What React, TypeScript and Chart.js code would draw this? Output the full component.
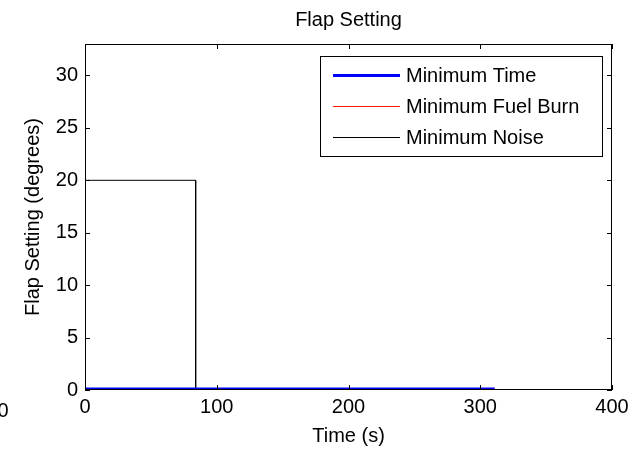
import React, { useEffect, useRef } from "react";
import { Chart, registerables } from "chart.js";

Chart.register(...registerables);

const TITLE = "Flap Setting";
const X_LABEL = "Time (s)";
const Y_LABEL = "Flap Setting (degrees)";
const X_TICKS = [0, 100, 200, 300, 400];
const Y_TICKS = [0, 5, 10, 15, 20, 25, 30];
const X_MIN = 0;
const X_MAX = 400;
const Y_MIN = 0;
const Y_MAX = 33;
const SERIES_NAMES = ["Minimum Time", "Minimum Fuel Burn", "Minimum Noise"];
const SERIES_COLORS = ["#0000ff", "#ff1a00", "#000000"];
const TIME_X = [0, 311];
const TIME_Y = [0, 0];
const FUEL_X = [0, 311];
const FUEL_Y = [0, 0];
const NOISE_X = [0, 84, 84, 311];
const NOISE_Y = [20, 20, 0, 0];
const STRAY_LABEL = "0";

const FONT = "'Liberation Sans', Arial, Helvetica, sans-serif";

const toPoints = (xs: number[], ys: number[]) => xs.map((x, i) => ({ x, y: ys[i] }));

const framePlugin = {
  id: "matlabFrame",
  afterDraw(chart: any) {
    const { ctx, chartArea } = chart;
    const { left, right, top, bottom } = chartArea;
    const xs = chart.scales.x;
    const ys = chart.scales.y;
    ctx.save();
    ctx.strokeStyle = "#000";
    ctx.lineWidth = 1;
    ctx.strokeRect(left + 0.5, top + 0.5, right - left - 1, bottom - top - 1);
    const tl = 5;
    ctx.beginPath();
    X_TICKS.forEach((v) => {
      const px = Math.round(xs.getPixelForValue(v)) + 0.5;
      ctx.moveTo(px, bottom);
      ctx.lineTo(px, bottom - tl);
      ctx.moveTo(px, top);
      ctx.lineTo(px, top + tl);
    });
    Y_TICKS.forEach((v) => {
      const py = Math.round(ys.getPixelForValue(v)) + 0.5;
      ctx.moveTo(left, py);
      ctx.lineTo(left + tl, py);
      ctx.moveTo(right, py);
      ctx.lineTo(right - tl, py);
    });
    ctx.stroke();

    // legend box
    const bx = 320, by = 56, bw = 283, bh = 101;
    ctx.fillStyle = "#fff";
    ctx.fillRect(bx, by, bw, bh);
    ctx.strokeRect(bx + 0.5, by + 0.5, bw - 1, bh - 1);
    const rows = [75, 106, 137];
    const widths = [3, 1, 1];
    chart.data.datasets.forEach((ds: any, i: number) => {
      ctx.beginPath();
      ctx.strokeStyle = ds.borderColor;
      ctx.lineWidth = widths[i];
      ctx.moveTo(333, rows[i] + 0.5);
      ctx.lineTo(400, rows[i] + 0.5);
      ctx.stroke();
      ctx.fillStyle = "#000";
      ctx.font = `20px ${FONT}`;
      ctx.textAlign = "left";
      ctx.textBaseline = "middle";
      ctx.fillText(ds.label, 406, rows[i] + 1);
    });

    // stray clipped label at bottom-left
    ctx.fillStyle = "#000";
    ctx.font = `20px ${FONT}`;
    ctx.textAlign = "center";
    ctx.textBaseline = "middle";
    ctx.fillText(STRAY_LABEL, 3, 411);
    ctx.restore();
  },
};

export default function App() {
  const ref = useRef<HTMLCanvasElement | null>(null);
  useEffect(() => {
    if (!ref.current) return;
    const chart = new Chart(ref.current, {
      type: "line",
      data: {
        datasets: [
          {
            label: SERIES_NAMES[0],
            data: toPoints(TIME_X, TIME_Y),
            borderColor: SERIES_COLORS[0],
            borderWidth: 5,
            clip: 0,
          },
          {
            label: SERIES_NAMES[1],
            data: toPoints(FUEL_X, FUEL_Y),
            borderColor: SERIES_COLORS[1],
            borderWidth: 1,
            clip: 0,
          },
          {
            label: SERIES_NAMES[2],
            data: toPoints(NOISE_X, NOISE_Y),
            borderColor: SERIES_COLORS[2],
            borderWidth: 1,
            clip: 0,
          },
        ] as any,
      },
      options: {
        responsive: false,
        animation: false,
        parsing: true,
        elements: { point: { radius: 0 }, line: { tension: 0 } },
        layout: { padding: { left: 0, right: 17, top: 0, bottom: 0 } },
        plugins: {
          legend: { display: false },
          tooltip: { enabled: false },
          title: {
            display: true,
            text: TITLE,
            fullSize: false,
            color: "#000",
            font: { size: 20, family: FONT, weight: "normal" },
            padding: { top: 8, bottom: 12 },
          },
        },
        scales: {
          x: {
            type: "linear",
            min: X_MIN,
            max: X_MAX,
            afterBuildTicks: (s: any) => {
              s.ticks = X_TICKS.map((v) => ({ value: v }));
            },
            afterFit: (s: any) => {
              s.height = 60;
              s.paddingLeft = 0;
              s.paddingRight = 0;
            },
            grid: { display: false, drawTicks: false },
            border: { display: false },
            ticks: {
              color: "#000",
              font: { size: 20, family: FONT },
              padding: 5,
              maxRotation: 0,
              autoSkip: false,
            },
            title: {
              display: true,
              text: X_LABEL,
              color: "#000",
              font: { size: 20, family: FONT },
              padding: { top: 0, bottom: 2 },
            },
          },
          y: {
            type: "linear",
            min: Y_MIN,
            max: Y_MAX,
            afterBuildTicks: (s: any) => {
              s.ticks = Y_TICKS.map((v) => ({ value: v }));
            },
            afterFit: (s: any) => {
              s.width = 85;
              s.paddingTop = 0;
              s.paddingBottom = 0;
            },
            grid: { display: false, drawTicks: false },
            border: { display: false },
            ticks: {
              color: "#000",
              font: { size: 20, family: FONT },
              padding: 7,
              autoSkip: false,
            },
            title: {
              display: true,
              text: Y_LABEL,
              color: "#000",
              font: { size: 20, family: FONT },
              padding: { top: 21, bottom: 0 },
            },
          },
        },
      } as any,
      plugins: [framePlugin],
    });
    return () => chart.destroy();
  }, []);
  return (
    <div style={{ position: "absolute", left: 0, top: 0, width: 629, height: 450, background: "#fff" }}>
      <canvas ref={ref} width={629} height={450} style={{ width: 629, height: 450, display: "block" }} />
    </div>
  );
}
